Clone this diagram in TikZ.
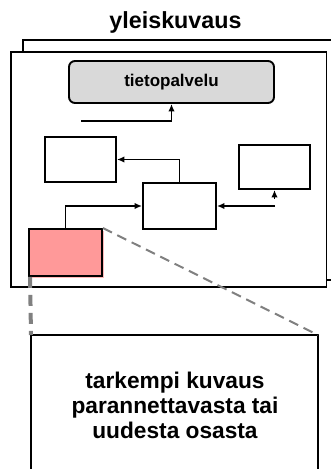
\documentclass[tikz,border=0pt]{standalone}
\usepackage{fontspec}
\setmainfont{Liberation Sans}
\usetikzlibrary{arrows.meta}

\definecolor{partfill}{RGB}{255,153,153}
\definecolor{partshade}{RGB}{255,185,185}

\begin{document}
\begin{tikzpicture}[x=1pt, y=-1pt,
        box/.style={draw, line width=1.9pt, inner sep=0pt},
        arr/.style={line width=1.8pt, -{Latex[length=7.5pt, width=6.5pt]}}]
        \useasboundingbox (0,0) rectangle (330,469);
        \node[anchor=base, font=\fontsize{23.3}{25}\selectfont\bfseries] (title) at (175.5,28) {yleiskuvaus};
        % frames, the back one sticks out at the top
        \draw[line width=1.9pt] (23,40) rectangle (345,280);
        \filldraw[line width=1.9pt, fill=white] (11,52) rectangle (326.5,287);
        \node[box, rounded corners=6pt, fill=gray!30, minimum width=205pt, minimum height=42pt,
            font=\fontsize{17}{20}\selectfont\bfseries] (tieto) at (171.5,82) {tietopalvelu};
        \node[box, minimum width=71pt, minimum height=45pt] (left) at (80.5,159.5) {};
        \node[box, minimum width=73pt, minimum height=46pt] (mid) at (179.5,206) {};
        \node[box, minimum width=71pt, minimum height=44pt] (right) at (274.5,167) {};
        \fill[partshade] (31,231) rectangle (104,278);
        \node[box, fill=partfill, minimum width=73pt, minimum height=47pt] (part) at (65.5,252.5) {};
        % connectors
        \coordinate (tin) at (81,121);
        \draw[arr] (tin) -| (tieto.south);
        \draw[arr] (mid.north) |- (left.east);
        \draw[arr] (part.north) |- (mid.west);
        \coordinate (rin) at (275,206);
        \draw[arr] (rin) -- (mid.east);
        \coordinate (rup) at ([yshift=-9pt]right.south);
        \draw[arr] (rup) -- (right.south);
        % detail box, open at the bottom
        \coordinate (dtl) at (31,335);
        \coordinate (dtr) at (318,335);
        \draw[line width=1.9pt] (31,480) -- (dtl) -- (dtr) -- (318,480);
        \draw[gray, line width=4pt, dash pattern=on 11pt off 7pt] ([xshift=2pt]part.south west) -- (dtl);
        \draw[gray, line width=2pt, dash pattern=on 10pt off 6pt] (part.north east) -- (dtr);
        \node[align=center, font=\fontsize{22.7}{25}\selectfont\bfseries] (detail) at (175,405)
            {tarkempi kuvaus\\parannettavasta tai\\uudesta osasta};
\end{tikzpicture}
\end{document}
